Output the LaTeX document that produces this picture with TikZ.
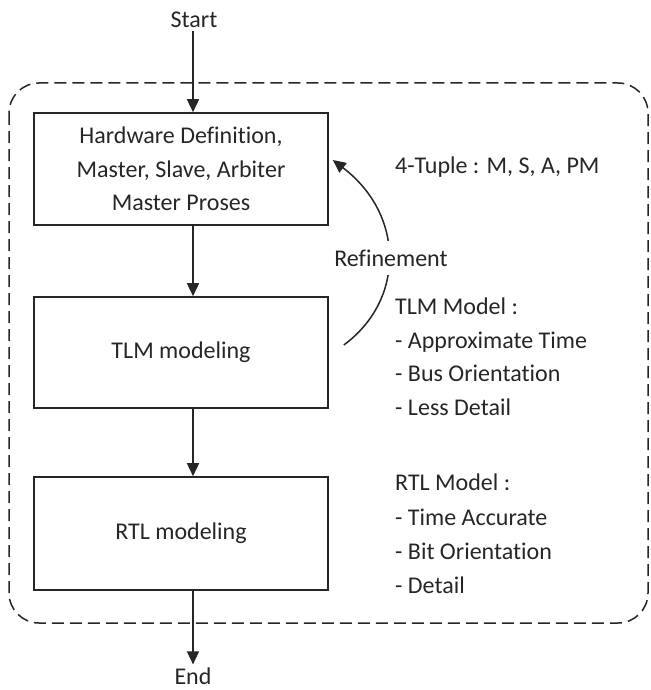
\documentclass[tikz,border=0pt]{standalone}
\usepackage{fontspec}
\setmainfont{Carlito}[Ligatures={NoCommon,NoRare,NoDiscretionary}]
\usetikzlibrary{arrows.meta}
\definecolor{ink}{RGB}{38,38,38}
\begin{document}
\begin{tikzpicture}[x=1pt,y=-1pt,
  every node/.style={text=ink, font=\fontsize{24}{33.5}\selectfont},
  box/.style={draw=ink, line width=1.6pt, minimum width=294pt, inner sep=0pt, align=center},
  arr/.style={draw=ink, line width=1.6pt, -{Triangle[length=13pt,width=12pt]}},
  txt/.style={anchor=base west, inner sep=0pt},
  term/.style={inner sep=3pt}]
\useasboundingbox (0,0) rectangle (650,690);
% dashed frame
\draw[draw=ink, line width=1.5pt, dash pattern=on 12pt off 6pt, rounded corners=30pt]
  (9,83) rectangle (648,623);
% nodes
\node[term] (start) at (194,20) {Start};
\node[term] (end) at (193,676) {End};
\node[box, minimum height=112pt] (hw) at (181,169) {Hardware Definition,\\Master, Slave, Arbiter\\Master Proses};
\node[box, minimum height=111pt] (tlm) at (181,352.5) {TLM modeling};
\node[box, minimum height=113pt] (rtl) at (181,533.5) {RTL modeling};
% connectors
\draw[arr] (193,0 |- start.south) -- (193,0 |- hw.north);
\draw[arr] (193,0 |- hw.south) -- (193,0 |- tlm.north);
\draw[arr] (193,0 |- tlm.south) -- (193,0 |- rtl.north);
\draw[arr] (193,0 |- rtl.south) -- (193,0 |- end.north);
% refinement
\draw[arr, line width=1.5pt] ([xshift=15pt,yshift=7.5pt]tlm.east) .. controls (405,300) and (405,215) .. ([xshift=4pt,yshift=9pt]hw.east);
\node[fill=white, inner xsep=2pt, inner ysep=9pt] (ref) at (391,258) {Refinement};
% side texts
\node[txt] (tuple) at (395,173) {4-Tuple : M, S, A, PM};
\node[txt] (tlmh) at (395,314) {TLM Model :};
\node[txt] (tlm1) at (395,348) {- Approximate Time};
\node[txt] (tlm2) at (395,381) {- Bus Orientation};
\node[txt] (tlm3) at (395,415) {- Less Detail};
\node[txt] (rtlh) at (395,490) {RTL Model :};
\node[txt] (rtl1) at (395,525) {- Time Accurate};
\node[txt] (rtl2) at (395,559) {- Bit Orientation};
\node[txt] (rtl3) at (395,593) {- Detail};
\end{tikzpicture}
\end{document}
